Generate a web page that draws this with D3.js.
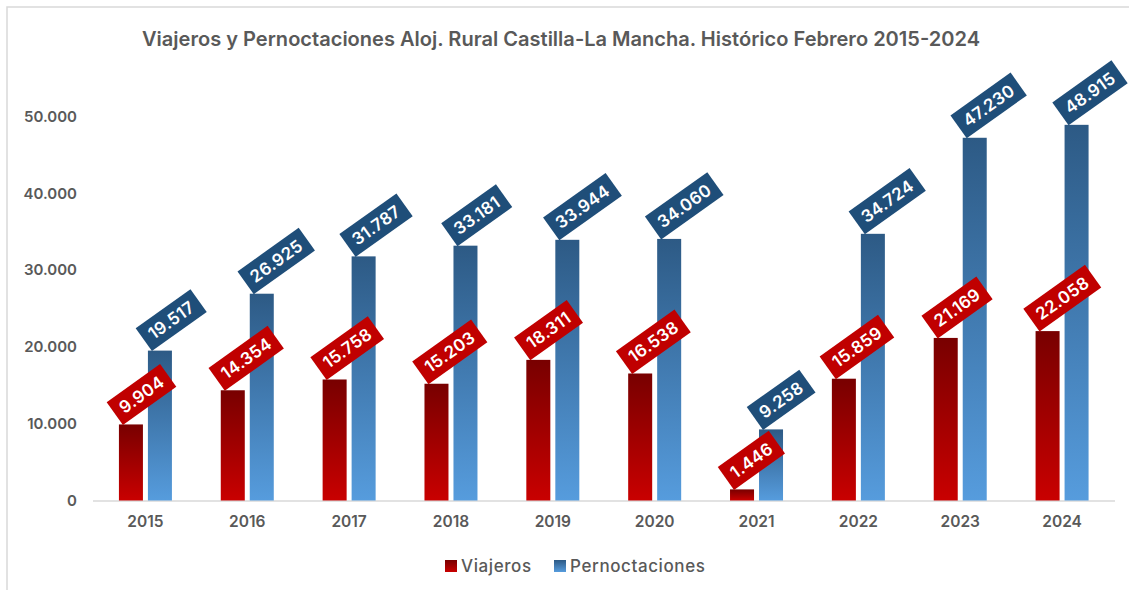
<!DOCTYPE html>
<html>
<head>
<meta charset="utf-8">
<script src="https://cdn.jsdelivr.net/npm/d3@7"></script>
<style>
  body { margin: 0; background: #fff; }
  svg { display: block; font-family: Inter, "Open Sans", sans-serif; }
</style>
</head>
<body>
<svg id="chart" width="1129" height="590"></svg>
<script>
// data
var years = ["2015", "2016", "2017", "2018", "2019", "2020", "2021", "2022", "2023", "2024"];
var viajeros = [9904, 14354, 15758, 15203, 18311, 16538, 1446, 15859, 21169, 22058];
var pernoctaciones = [19517, 26925, 31787, 33181, 33944, 34060, 9258, 34724, 47230, 48915];
var yTicks = [0, 10000, 20000, 30000, 40000, 50000];
var seriesNames = ["Viajeros", "Pernoctaciones"];

var es = d3.formatLocale({ decimal: ",", thousands: ".", grouping: [3], currency: ["", " €"] });
var fmt = es.format(",d");

var svg = d3.select("#chart");
var grey = "#595959";

// chart border (only top/left visible in the shot)
svg.append("rect")
  .attr("x", 7).attr("y", 7)
  .attr("width", 1140).attr("height", 600)
  .attr("fill", "none")
  .attr("stroke", "#d9d9d9")
  .attr("stroke-width", 1.5);

var defs = svg.append("defs");
function grad(id, top, bottom) {
  var g = defs.append("linearGradient").attr("id", id)
    .attr("x1", 0).attr("y1", 0).attr("x2", 0).attr("y2", 1);
  g.append("stop").attr("offset", "0%").attr("stop-color", top);
  g.append("stop").attr("offset", "100%").attr("stop-color", bottom);
}
grad("gRed", "#780000", "#c90000");
grad("gBlue", "#2d5a85", "#569cdd");

var x = d3.scaleBand().domain(years).range([94.5, 1113]);
var xs = d3.scaleBand().domain(seriesNames).range([-26.5, 26.5]).paddingInner(0.172);
var y = d3.scaleLinear().domain([0, 50000]).range([500.5, 116.5]);

// title
svg.append("text")
  .attr("x", 561).attr("y", 46)
  .attr("text-anchor", "middle")
  .attr("fill", grey)
  .attr("font-size", 20).attr("font-weight", 600)
  .attr("textLength", 838).attr("lengthAdjust", "spacingAndGlyphs")
  .text("Viajeros y Pernoctaciones Aloj. Rural Castilla-La Mancha. Histórico Febrero 2015-2024");

// y axis
var yAxis = svg.append("g")
  .attr("transform", "translate(77,0)")
  .call(d3.axisLeft(y).tickValues(yTicks).tickFormat(fmt).tickSize(0).tickPadding(0));
yAxis.select(".domain").remove();
yAxis.selectAll("text")
  .attr("fill", grey).attr("font-size", 15).attr("font-weight", 600)
  .attr("font-family", "Inter, sans-serif");

// baseline
svg.append("line")
  .attr("x1", x.range()[0] - 1.5).attr("x2", x.range()[1] + 2)
  .attr("y1", y(0) + 0.5).attr("y2", y(0) + 0.5)
  .attr("stroke", "#d9d9d9").attr("stroke-width", 1.5);

// x axis
var xAxis = svg.append("g")
  .attr("transform", "translate(0," + (y(0) + 9) + ")")
  .call(d3.axisBottom(x).tickSize(0).tickPadding(6));
xAxis.select(".domain").remove();
xAxis.selectAll("text")
  .attr("fill", grey).attr("font-size", 15.5).attr("font-weight", 600)
  .attr("font-family", "Inter, sans-serif");

var groups = [
  { name: "Viajeros", values: viajeros, fill: "url(#gRed)", box: "#c00000" },
  { name: "Pernoctaciones", values: pernoctaciones, fill: "url(#gBlue)", box: "#1f4e79" }
];

// bars
groups.forEach(function(s) {
  svg.append("g").selectAll("rect")
    .data(s.values)
    .join("rect")
      .attr("x", function(d, i) { return x(years[i]) + x.bandwidth() / 2 + xs(s.name); })
      .attr("y", function(d) { return y(d); })
      .attr("width", xs.bandwidth())
      .attr("height", function(d) { return y(0) - y(d); })
      .attr("fill", s.fill);
});

// rotated data labels
groups.forEach(function(s) {
  var lab = svg.append("g").selectAll("g")
    .data(s.values)
    .join("g")
      .attr("transform", function(d, i) {
        var cx = x(years[i]) + x.bandwidth() / 2 + xs(s.name) + xs.bandwidth() / 2;
        return "translate(" + (cx - 8) + "," + (y(d) + 0.5) + ") rotate(-35.5)";
      });
  var txt = lab.append("text")
    .attr("fill", "#fff")
    .attr("font-size", 17).attr("font-weight", 600)
    .attr("letter-spacing", 0.3)
    .attr("text-anchor", "middle")
    .attr("dy", "0.36em")
    .attr("y", -14)
    .text(function(d) { return fmt(d); });
  txt.each(function() {
    var w = this.getComputedTextLength() + 15;
    d3.select(this).attr("x", w / 2);
    d3.select(this.parentNode).insert("rect", "text")
      .attr("x", 0).attr("y", -28)
      .attr("width", w).attr("height", 28)
      .attr("fill", s.box);
  });
});

// legend
var legend = svg.append("g").attr("transform", "translate(445,560)");
var legX = [0, 109];
groups.forEach(function(s, i) {
  var g = legend.append("g").attr("transform", "translate(" + legX[i] + ",0)");
  g.append("rect").attr("width", 12).attr("height", 12).attr("fill", s.fill);
  g.append("text")
    .attr("x", 16).attr("y", 12)
    .attr("fill", grey).attr("font-size", 17).attr("font-weight", 500)
    .attr("letter-spacing", 0.6)
    .text(s.name);
});
</script>
</body>
</html>
